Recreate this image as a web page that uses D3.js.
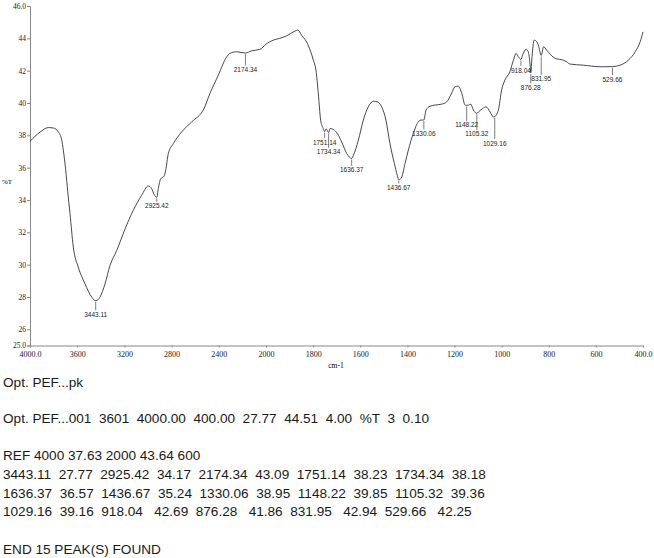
<!DOCTYPE html>
<html>
<head>
<meta charset="utf-8">
<script src="https://cdn.jsdelivr.net/npm/d3@7"></script>
<style>
  body { margin: 0; background: #fff; }
  svg { display: block; }
  .axis path, .axis line { stroke: #888; }
  .axis text { font-family: "Liberation Serif", serif; fill: #222; }
  .peak text { font-family: "Liberation Sans", Arial, sans-serif; font-size: 6.5px; fill: #222; }
  .report { font-family: "Liberation Sans", Arial, sans-serif; font-size: 13.6px; fill: #1a1a1a; white-space: pre; }
</style>
</head>
<body>
<div id="chart"></div>
<script>
// spectrum trace (cm-1, %T)
const wavenumbers = [4000, 3915, 3845, 3800, 3760, 3731, 3718, 3698, 3680, 3661, 3633, 3591, 3534, 3477, 3443.11,
  3407, 3364, 3322, 3265, 3195, 3125, 3054, 2997, 2969, 2949, 2925.42, 2913, 2892, 2864, 2850, 2828, 2785,
  2715, 2630, 2525, 2475, 2404, 2333, 2305, 2248, 2174.34, 2121, 2051, 2000, 1969, 1941, 1912, 1877, 1865,
  1849, 1821, 1799, 1788, 1778, 1768, 1757, 1751.14, 1745, 1734.34, 1728, 1714, 1697, 1679, 1657, 1636.37,
  1629, 1608, 1587, 1566, 1544, 1528, 1509, 1491, 1474, 1455, 1443, 1436.67, 1424, 1410, 1396, 1375, 1358,
  1344, 1330.06, 1321, 1304, 1283, 1254, 1233, 1216, 1198, 1184, 1169, 1155, 1148.22, 1141, 1131, 1120,
  1105.32, 1098, 1080, 1066, 1049, 1035, 1029.16, 1014, 1000, 986, 965, 950, 939, 929, 918.04, 911, 896,
  887, 879, 876.28, 871, 862, 851, 844, 831.95, 822, 809, 773, 738, 724, 710, 653, 582, 529.66, 497, 462,
  433, 412, 400];
const transmittance = [37.63, 38.2, 38.48, 38.45, 38.21, 37.7, 37.1, 35.9, 34.5, 33.16, 31.09, 29.85, 28.82, 27.99, 27.77,
  27.99, 28.82, 29.95, 30.88, 32.2, 33.36, 34.29, 34.87, 34.7, 34.35, 34.17, 34.7, 35.32, 35.47, 35.84, 36.87, 37.49,
  38.21, 38.83, 39.66, 40.59, 41.72, 42.86, 43.07, 43.17, 43.09, 43.23, 43.32, 43.64, 43.89, 44.0, 44.16, 44.45, 44.51,
  44.2, 43.58, 42.65, 42.03, 40.59, 38.94, 38.42, 38.23, 38.4, 38.18, 38.42, 38.36, 38.11, 37.59, 36.87, 36.57,
  36.77, 37.7, 38.94, 39.76, 40.11, 40.07, 39.76, 38.94, 37.49, 36.25, 35.53, 35.24, 35.42, 36.25, 37.08, 38.11, 38.73,
  38.94, 38.95, 39.56, 39.8, 39.87, 39.93, 40.07, 40.49, 41.0, 41.04, 40.59, 39.87, 39.85, 39.87, 39.93, 39.56,
  39.36, 39.45, 39.66, 39.76, 39.45, 39.14, 39.16, 39.56, 40.8, 41.42, 41.93, 42.65, 43.07, 42.86, 42.69, 42.96, 43.32,
  43.17, 42.34, 41.86, 42.86, 43.89, 43.79, 43.58, 42.94, 43.48, 43.27, 42.76, 42.65, 42.55, 42.41, 42.34, 42.24, 42.25, 42.34, 42.65,
  43.17, 43.79, 44.4];

// peak table
const peakWn = [3443.11, 2925.42, 2174.34, 1751.14, 1734.34, 1636.37, 1436.67, 1330.06, 1148.22, 1105.32, 1029.16, 918.04, 876.28, 831.95, 529.66];
const peakT = [27.77, 34.17, 43.09, 38.23, 38.18, 36.57, 35.24, 38.95, 39.85, 39.36, 39.16, 42.69, 41.86, 42.94, 42.25];

// tick labels
const xTicks = [4000, 3600, 3200, 2800, 2400, 2000, 1800, 1600, 1400, 1200, 1000, 800, 600, 400];
const yTicks = [25, 26, 28, 30, 32, 34, 36, 38, 40, 42, 44, 46];

const headerLines = ['Opt. PEF...pk', 'Opt. PEF...001  3601  4000.00  400.00  27.77  44.51  4.00  %T  3  0.10', 'REF 4000 37.63 2000 43.64 600'];
const footerLine = 'END 15 PEAK(S) FOUND';

const w = 654, h = 558;
// label drop below each peak (layout only)
const labelDrop = [16, 11, 19, 13, 22, 14, 10, 16, 22, 23, 29, 13, 17, 26, 15];

const svg = d3.select('#chart').append('svg')
    .attr('width', w)
    .attr('height', h);

// the wavenumber axis doubles its scale below 2000
const xScale = d3.scaleLinear()
    .domain([4000, 2000, 400])
    .range([30, 266, 643]);
const yScale = d3.scaleLinear()
    .domain([25, 46])
    .range([345.5, 6]);

const xAxis = d3.axisBottom(xScale)
    .tickValues(xTicks)
    .tickSize(2)
    .tickPadding(4)
    .tickFormat(d => (d === 4000 || d === 400) ? d3.format('.1f')(d) : d);
const yAxis = d3.axisLeft(yScale)
    .tickValues(yTicks)
    .tickSize(3)
    .tickPadding(1)
    .tickFormat(d => (d === 25 || d === 46) ? d3.format('.1f')(d) : d);

svg.append('g')
    .attr('class', 'axis')
    .attr('transform', 'translate(0,' + yScale(25) + ')')
    .call(xAxis)
    .call(g => g.selectAll('text').style('font-size', '8px'));

svg.append('g')
    .attr('class', 'axis')
    .attr('transform', 'translate(' + xScale(4000) + ',0)')
    .call(yAxis)
    .call(g => g.selectAll('text').style('font-size', '7.5px'));

// spectrum
const line = d3.line()
    .x(d => xScale(d[0]))
    .y(d => yScale(d[1]))
    .curve(d3.curveMonotoneX);

svg.append('path')
    .datum(d3.zip(wavenumbers, transmittance))
    .attr('d', line)
    .attr('fill', 'none')
    .attr('stroke', '#333')
    .attr('stroke-width', 0.9);

// peak markers
const peaks = svg.selectAll('.peak')
    .data(d3.zip(peakWn, peakT, labelDrop))
    .enter()
    .append('g')
    .attr('class', 'peak');

peaks.append('line')
    .attr('x1', d => xScale(d[0]))
    .attr('x2', d => xScale(d[0]))
    .attr('y1', d => yScale(d[1]) + 1)
    .attr('y2', d => yScale(d[1]) + d[2] - 6.5)
    .attr('stroke', '#444')
    .attr('stroke-width', 0.7);

peaks.append('text')
    .attr('x', d => xScale(d[0]))
    .attr('y', d => yScale(d[1]) + d[2])
    .attr('text-anchor', 'middle')
    .text(d => d3.format('.2f')(d[0]));

// axis titles
svg.append('text')
    .attr('x', 2)
    .attr('y', 184)
    .style('font-family', '"Liberation Serif", serif')
    .style('font-size', '7px')
    .text('%T');

svg.append('text')
    .attr('x', 336)
    .attr('y', 368)
    .attr('text-anchor', 'middle')
    .style('font-family', '"Liberation Serif", serif')
    .style('font-size', '7.5px')
    .text('cm-1');

// report block
const f2 = d3.format('.2f');
const peakLines = [];
for (let i = 0; i < peakWn.length; i += 5) {
    const parts = [];
    for (let j = i; j < Math.min(i + 5, peakWn.length); j++) {
        const wn = f2(peakWn[j]);
        parts.push(wn + ' '.repeat(2 + (7 - wn.length)) + f2(peakT[j]));
    }
    peakLines.push(parts.join('  '));
}

const reportLines = [
    {text: headerLines[0], y: 387},
    {text: headerLines[1], y: 423},
    {text: headerLines[2], y: 460},
    {text: peakLines[0], y: 479},
    {text: peakLines[1], y: 497.5},
    {text: peakLines[2], y: 516},
    {text: footerLine, y: 554}
];

svg.selectAll('.report')
    .data(reportLines)
    .enter()
    .append('text')
    .attr('class', 'report')
    .attr('xml:space', 'preserve')
    .attr('x', 3)
    .attr('y', d => d.y)
    .text(d => d.text);
</script>
</body>
</html>
